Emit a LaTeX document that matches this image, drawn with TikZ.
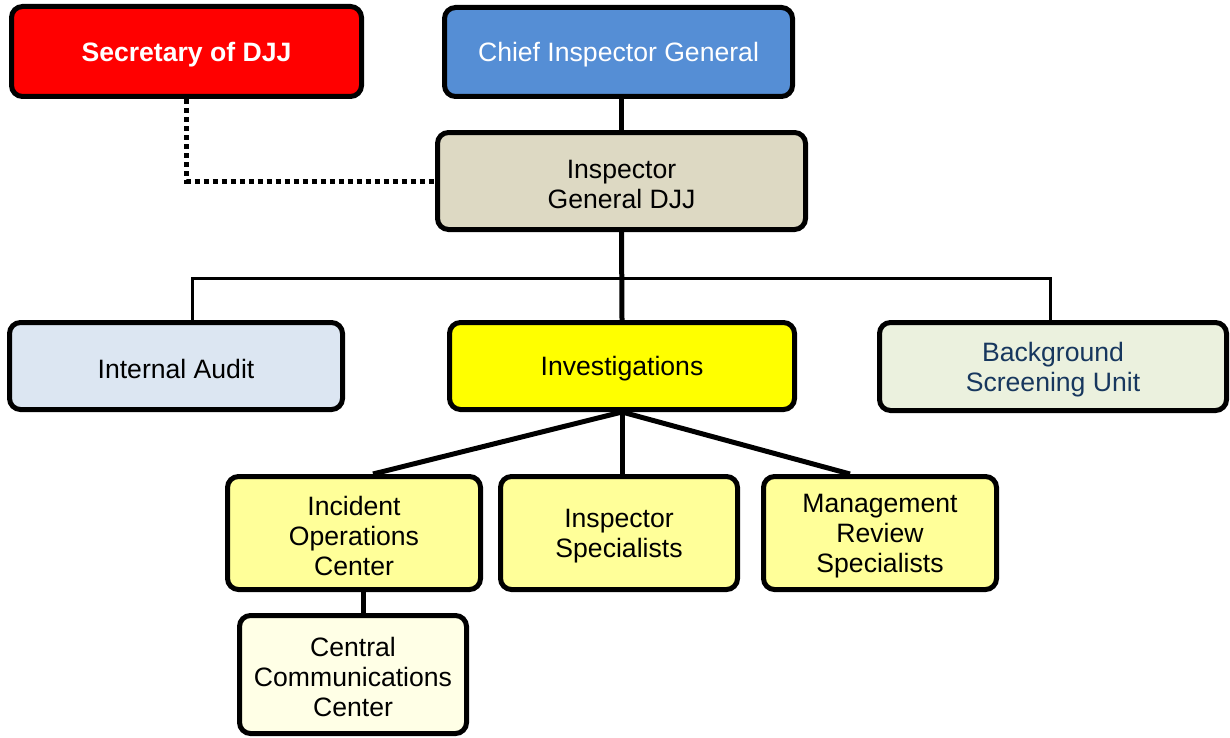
\documentclass[tikz,border=0pt]{standalone}
\usepackage{fontspec}
\setmainfont{Liberation Sans}
\usepackage{tikz}

\definecolor{secred}{HTML}{FF0000}
\definecolor{chiefblue}{HTML}{558ED5}
\definecolor{igtan}{HTML}{DDD9C3}
\definecolor{auditblue}{HTML}{DCE6F2}
\definecolor{invyellow}{HTML}{FFFF00}
\definecolor{bsugreen}{HTML}{EBF1DE}
\definecolor{bsutext}{HTML}{17375E}
\definecolor{unityellow}{HTML}{FFFF99}
\definecolor{ccccream}{HTML}{FFFFE6}

\tikzset{
  orgbox/.style={draw=black,line width=2.5pt,rounded corners=5.5pt,inner sep=0pt,
    align=center,text height=12.6pt,font=\fontsize{13.3}{15}\selectfont},
  twoline/.style={text height=27.6pt},
  threeline/.style={text height=42.6pt},
  thickline/.style={draw=black,line width=2.5pt},
  busline/.style={draw=black,line width=1.5pt},
  dotline/.style={draw=black,line width=2.5pt,dash pattern=on 2.5pt off 2pt}
}

\begin{document}
\begin{tikzpicture}[x=0.5pt,y=-0.5pt]
\useasboundingbox (0,0) rectangle (1230,738);
% Drawing boxes
% Row 1: sec chief
\node[orgbox,fill=secred,text=white,font=\fontsize{13.3}{15}\selectfont\bfseries,minimum width=175pt,minimum height=45pt] (sec) at (186.5,51.5) {Secretary of DJJ};
\node[orgbox,fill=chiefblue,text=white,minimum width=174pt,minimum height=44.5pt] (chief) at (618.5,52) {Chief Inspector General};
% Row 2: ig
\node[orgbox,twoline,fill=igtan,minimum width=184pt,minimum height=48.5pt] (ig) at (621.5,181) {Inspector\\General DJJ};
% Row 3: audit inv bsu
\node[orgbox,fill=auditblue,minimum width=166.5pt,minimum height=43.5pt] (audit) at (176,366) {Internal Audit};
\node[orgbox,fill=invyellow,minimum width=172.5pt,minimum height=43.5pt] (inv) at (622,366) {Investigations};
\node[orgbox,twoline,fill=bsugreen,text=bsutext,minimum width=173.5pt,minimum height=44pt] (bsu) at (1053,366.5) {Background\\Screening Unit};
% Row 4: ioc is mrs
\node[orgbox,threeline,fill=unityellow,minimum width=126.5pt,minimum height=56.5pt] (ioc) at (354,533) {Incident\\Operations\\Center};
\node[orgbox,twoline,fill=unityellow,minimum width=118.5pt,minimum height=56.5pt] (is) at (619,533) {Inspector\\Specialists};
\node[orgbox,threeline,fill=unityellow,minimum width=116.5pt,minimum height=56.5pt] (mrs) at (880,533) {Management\\Review\\Specialists};
% Row 5: ccc
\node[orgbox,threeline,fill=ccccream,minimum width=113.5pt,minimum height=59pt] (ccc) at (353,674.5) {Central\\Communications\\Center};
% Done with boxes; drawing connectors
\coordinate (bus) at (622,278);
\draw[thickline] (ig.north |- chief.south) -- (ig.north);
\draw[dotline] (sec.south) |- (ig.west);
\draw[thickline] (ig.south) -- (inv.north);
\draw[busline] ([xshift=8pt]audit.north) |- (bus) -| ([xshift=-1.5pt]bsu.north);
% Investigations to its units
\draw[thickline] (inv.south) -- ([xshift=9.5pt]ioc.north);
\draw[thickline] (inv.south) -- (inv.south |- is.north);
\draw[thickline] (inv.south) -- ([xshift=-15pt]mrs.north);
\draw[thickline] ([xshift=4.5pt]ioc.south) -- ([xshift=4.5pt]ioc.south |- ccc.north);
% Done with connectors
\end{tikzpicture}
\end{document}
